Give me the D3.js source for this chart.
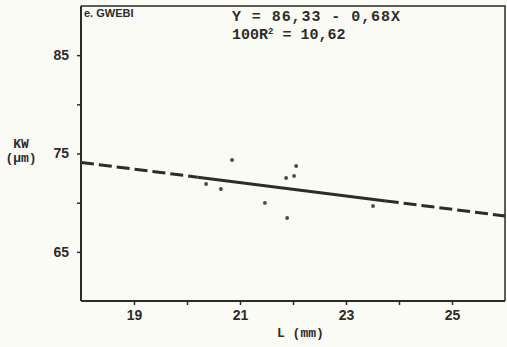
<!DOCTYPE html>
<html><head><meta charset="utf-8">
<script src="https://cdn.jsdelivr.net/npm/d3@7"></script>
<style>
body{margin:0;background:#fbfbf6;}
svg{display:block;}
</style></head>
<body>
<svg id="c" width="507" height="347"></svg>
<script>
// Data
const lengthMM = [20.36, 20.64, 20.85, 21.47, 21.87, 21.89, 22.02, 22.06, 23.51];
const kwUM     = [71.90, 71.39, 74.34, 69.97, 72.51, 68.44, 72.72, 73.73, 69.66];
const xTicks = [19, 20, 21, 22, 23, 24, 25];
const xLabels = [19, 21, 23, 25];
const yTicks = [65, 70, 75, 80, 85];
const yLabels = [65, 75, 85];
const intercept = 86.33, slope = -0.68;
const r2Text = "10,62";
const solidRange = [20.2, 23.75];
const panelTitle = "e. GWEBI";

const svg = d3.select("#c");
const ink = "#2e2b28";
const x = d3.scaleLinear().domain([18, 26]).range([81, 505]);
const y = d3.scaleLinear().domain([60, 90]).range([301, 6]);

// frame top/right
svg.append("path").attr("d", `M${x(18)},${y(90)}H${x(26)}V${y(60)}`)
  .attr("fill","none").attr("stroke",ink).attr("stroke-width",1.5);

const yAxis = d3.axisLeft(y).tickValues(yTicks).tickSize(4).tickPadding(8)
  .tickFormat(d => yLabels.includes(d) ? d : "");
const gy = svg.append("g").attr("transform",`translate(${x(18)},0)`).call(yAxis);
gy.select(".domain").attr("d",`M0,${y(90)}V${y(60)}`).attr("stroke",ink).attr("stroke-width",2);
gy.selectAll(".tick line").attr("stroke",ink).attr("stroke-width",1.5);
gy.selectAll(".tick text").attr("fill",ink).style("font","bold 14px 'Liberation Sans', Arial, sans-serif");

const xAxis = d3.axisBottom(x).tickValues(xTicks).tickSize(4).tickPadding(5)
  .tickFormat(d => xLabels.includes(d) ? d : "");
const gx = svg.append("g").attr("transform",`translate(0,${y(60)})`).call(xAxis);
gx.select(".domain").attr("d",`M${x(18)},0H${x(26)}`).attr("stroke",ink).attr("stroke-width",2);
gx.selectAll(".tick line").attr("stroke",ink).attr("stroke-width",1.5);
gx.selectAll(".tick text").attr("fill",ink).style("font","bold 14px 'Liberation Sans', Arial, sans-serif");

// regression line
const f = v => intercept + slope * v;
const seg = (a,b,dash) => svg.append("line")
  .attr("x1",x(a)).attr("y1",y(f(a))).attr("x2",x(b)).attr("y2",y(f(b)))
  .attr("stroke",ink).attr("stroke-width",3).attr("stroke-dasharray",dash);
seg(18, solidRange[0], "13,5");
seg(solidRange[0], solidRange[1], null);
seg(solidRange[1], 26, "13,5");

// points
svg.selectAll("circle.pt").data(lengthMM).join("circle").attr("class","pt")
  .attr("cx",(d)=>x(d)).attr("cy",(d,i)=>y(kwUM[i])).attr("r",1.9).attr("fill","#4a4744");

// texts
const mono = "bold 15px 'Liberation Mono', 'Courier New', monospace";
svg.append("text").attr("x",84).attr("y",17).attr("fill",ink)
  .style("font","bold 11px 'Liberation Sans', Arial, sans-serif").text(panelTitle);
svg.append("text").attr("x",232).attr("y",21).attr("fill",ink).style("font",mono)
  .attr("textLength",168).attr("lengthAdjust","spacing")
  .text(`Y = ${String(intercept).replace(".",",")} - ${String(-slope).replace(".",",")}X`);
const t2 = svg.append("text").attr("x",232).attr("y",39).attr("fill",ink).style("font",mono);
t2.append("tspan").text("100R");
t2.append("tspan").attr("dy",-5).style("font-size","9px").text("2");
t2.append("tspan").attr("dy",5).text(" = " + r2Text);

svg.append("text").attr("x",21).attr("y",148).attr("text-anchor","middle").attr("fill",ink)
  .style("font","bold 13px 'Liberation Mono', monospace").text("KW");
svg.append("text").attr("x",21).attr("y",162).attr("text-anchor","middle").attr("fill",ink)
  .style("font","bold 13px 'Liberation Mono', monospace").text("(µm)");
svg.append("text").attr("x",277).attr("y",337).attr("fill",ink)
  .style("font","bold 13px 'Liberation Mono', monospace").text("L (mm)");
</script>
</body></html>
